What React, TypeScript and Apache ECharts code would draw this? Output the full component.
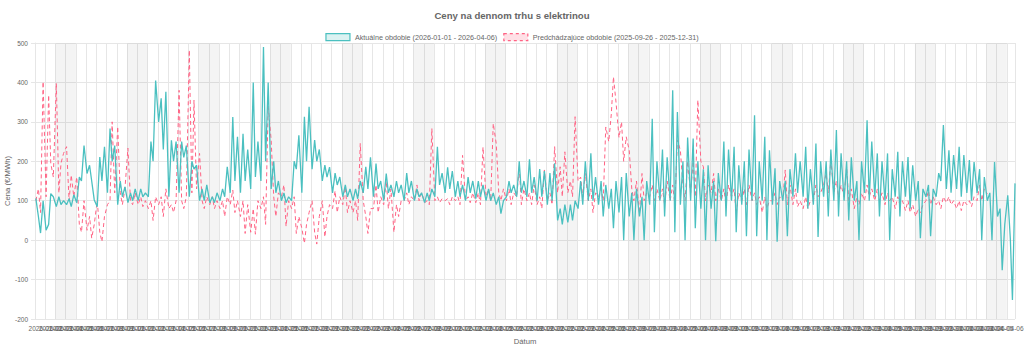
import React, { useEffect, useRef } from "react";
import * as echarts from "echarts";

const TITLE = "Ceny na dennom trhu s elektrinou";
const CURRENT_NAME = "Aktuálne obdobie (2026-01-01 - 2026-04-06)";
const PREVIOUS_NAME = "Predchádzajúce obdobie (2025-09-26 - 2025-12-31)";
const X_NAME = "Dátum";
const Y_NAME = "Cena (€/MWh)";
const START_DATE = "2026-01-01";
// hours of the day at which the values below were read
const HOURS = [2, 8, 13, 19];
const LAST_HOUR = 95 * 24 + 19;
const Y_MIN = -200;
const Y_MAX = 500;
const Y_STEP = 100;

// current period (2026-01-01 .. 2026-04-06), 4 readings per day
const CURRENT = [
  106, 60, 18, 100, 25, 40, 118, 110, 85, 110, 90, 100, 90, 105, 85, 115,
  95, 160, 150, 240, 169, 190, 150, 102, 85, 211, 150, 237,
  120, 283, 200, 240, 90, 150, 110, 135, 95, 120, 100, 130, 100, 130, 110, 120,
  110, 250, 200, 405, 300, 360, 230, 376, 110, 253, 200, 250,
  120, 250, 210, 240, 110, 200, 180, 190, 100, 130, 100, 140, 95, 110, 95, 120,
  100, 130, 110, 186, 120, 312, 150, 262, 120, 270, 150, 230,
  130, 400, 160, 250, 150, 490, 200, 400, 130, 200, 120, 150, 100, 120, 95, 110,
  100, 200, 180, 266, 120, 313, 200, 338, 180, 254, 200, 230,
  150, 190, 160, 185, 120, 170, 140, 160, 110, 140, 110, 130, 100, 130, 105, 150,
  120, 186, 130, 210, 110, 194, 130, 150, 100, 169, 120, 140,
  110, 150, 120, 140, 100, 170, 120, 150, 100, 130, 110, 120, 95, 120, 100, 130,
  110, 237, 140, 170, 120, 185, 130, 175, 110, 150, 110, 140,
  100, 160, 120, 150, 105, 150, 110, 140, 100, 130, 100, 120, 90, 110, 67, 100,
  110, 150, 120, 140, 110, 200, 120, 150, 110, 205, 120, 160,
  100, 180, 110, 175, 90, 170, 100, 195, 50, 80, 40, 90, 45, 90, 50, 100,
  80, 150, 90, 200, 100, 220, 100, 160, 90, 150, 60, 140,
  80, 130, 30, 150, 70, 160, 0, 170, 60, 120, 0, 130, 60, 110, 0, 150,
  90, 308, 20, 200, 100, 230, 60, 210, 100, 380, 20, 325,
  90, 200, 0, 260, 100, 258, 30, 200, 80, 180, 0, 190, 80, 150, -3, 170,
  100, 250, 60, 230, 100, 237, 20, 190, 90, 200, 10, 230,
  100, 317, 10, 200, 100, 262, 0, 228, 90, 182, -4, 150, 100, 150, 10, 180,
  110, 220, 120, 200, 110, 237, 80, 180, 90, 245, 8, 200,
  110, 200, 60, 230, 100, 279, 60, 220, 100, 200, 50, 210, 100, 150, 0, 200,
  120, 304, 100, 250, 110, 220, 60, 200, 100, 220, 0, 180,
  110, 224, 60, 200, 110, 211, 80, 190, 100, 150, 5, 130, 110, 140, 10, 130,
  110, 170, 150, 292, 130, 228, 120, 216, 130, 237, 110, 216,
  120, 203, 100, 198, 120, 180, 0, 160, 100, 120, 0, 198, 60, 80, -76, 40,
  114, 5, -152, 144,
];

// previous period (2025-09-26 ..), aligned by day index, 4 readings per day
const PREVIOUS = [
  100, 130, 70, 402, 110, 368, 195, 160, 398, 120, 195, 220, 237, 100, 165, 110,
  160, 40, 20, 100, 25, 60, 5, 40, 100, 20, -4, 60,
  90, 100, 300, 120, 288, 120, 90, 130, 233, 100, 90, 120, 90, 110, 85, 100,
  80, 100, 50, 110, 90, 110, 60, 130, 80, 90, 70, 100,
  380, 100, 80, 110, 482, 120, 355, 130, 220, 100, 80, 110, 90, 110, 80, 100,
  80, 100, 60, 110, 90, 127, 70, 100, 60, 100, 17, 90,
  20, 80, 15, 100, 80, 110, 40, 340, 254, 110, 60, 120, 110, 140, 35, 100,
  80, 110, 17, 60, 30, -8, 40, 70, 100, 20, -10, 60,
  100, 8, 60, 90, 80, 125, 70, 110, 90, 135, 70, 100, 70, 100, 50, 245,
  100, 60, 17, 80, 80, 140, 70, 110, 90, 150, 80, 130,
  20, 90, 60, 100, 100, 120, 90, 110, 100, 140, 100, 120, 95, 100, 90, 283,
  100, 110, 95, 105, 100, 105, 90, 110, 100, 110, 90, 215,
  100, 110, 95, 120, 95, 120, 90, 236, 110, 130, 100, 296, 245, 120, 100, 130,
  100, 130, 90, 120, 110, 186, 90, 130, 100, 120, 90, 140,
  90, 110, 80, 178, 100, 120, 90, 237, 120, 186, 110, 224, 120, 150, 110, 313,
  150, 160, 110, 169, 100, 130, 70, 120, 110, 130, 100, 287,
  250, 320, 414, 350, 260, 300, 200, 262, 228, 130, 100, 150, 68, 169, 100, 120,
  110, 140, 100, 130, 100, 130, 90, 150, 100, 140, 90, 254,
  228, 140, 100, 200, 120, 200, 110, 355, 200, 186, 100, 140, 120, 169, 100, 130,
  100, 130, 90, 140, 110, 130, 68, 120, 100, 130, 90, 140,
  100, 120, 90, 110, 70, 110, 80, 100, 100, 120, 90, 110, 100, 178, 90, 140,
  90, 130, 85, 100, 80, 110, 80, 100, 100, 140, 110, 120,
  140, 169, 120, 203, 120, 150, 110, 140, 110, 186, 100, 130, 80, 110, 90, 120,
  100, 140, 110, 130, 100, 130, 100, 120, 90, 120, 100, 110,
  80, 110, 90, 100, 75, 100, 70, 90, 60, 80, 70, 90, 100, 125, 90, 110,
  90, 100, 80, 110, 95, 110, 90, 100, 80, 100, 75, 100,
  90, 100, 85, 110, 100, 140, 100, 130, 117,
];

const FONT = "'Liberation Sans', Arial, Helvetica, sans-serif";
const DAY_MS = 86400000;
const START_MS = Date.parse(START_DATE + "T00:00:00Z");

const toSeries = (vals: number[]) =>
  vals.map((v, i) => [Math.floor(i / HOURS.length) * 24 + HOURS[i % HOURS.length], v]);

const dateLabel = (hour: number) =>
  new Date(START_MS + Math.round(hour / 24) * DAY_MS).toISOString().slice(0, 10);

const weekendAreas = () => {
  const out: any[] = [];
  for (let d = 0; d * 24 < LAST_HOUR; d++) {
    const dow = new Date(START_MS + d * DAY_MS).getUTCDay();
    if (dow === 6) {
      out.push([{ xAxis: d * 24 }, { xAxis: Math.min((d + 2) * 24, LAST_HOUR) }]);
    }
  }
  return out;
};

export default function App() {
  const ref = useRef<HTMLDivElement>(null);
  useEffect(() => {
    document.body.style.margin = "0";
    if (!ref.current) return;
    const chart = echarts.init(ref.current, null, { renderer: "svg" });
    const grid = "#e6e6e6";
    chart.setOption({
      animation: false,
      textStyle: { fontFamily: FONT },
      title: {
        text: TITLE,
        left: "center",
        top: 5,
        textStyle: { fontFamily: FONT, fontSize: 9.6, fontWeight: "bold", color: "#666" },
      },
      legend: {
        top: 28,
        left: "center",
        itemWidth: 24,
        itemHeight: 7,
        itemGap: 6,
        textStyle: { fontFamily: FONT, fontSize: 7.2, color: "#666" },
        data: [
          {
            name: CURRENT_NAME,
            icon: "rect",
            itemStyle: { color: "rgba(75,192,192,0.2)", borderColor: "#4bc0c0", borderWidth: 1.2 },
          },
          {
            name: PREVIOUS_NAME,
            icon: "rect",
            itemStyle: {
              color: "rgba(255,99,132,0.2)",
              borderColor: "#ff6384",
              borderWidth: 1.2,
              borderType: [3, 3],
            },
          },
        ],
      },
      grid: {
        left: 35,
        right: 9,
        top: 43,
        bottom: 30,
        containLabel: false,
        outerBoundsMode: "none",
      },
      xAxis: {
        type: "value",
        min: 0,
        max: LAST_HOUR,
        interval: 24,
        name: X_NAME,
        nameLocation: "middle",
        nameGap: 18.5,
        nameMoveOverlap: false,
        nameTextStyle: { fontFamily: FONT, fontSize: 7.7, color: "#666" },
        axisLine: { show: true, lineStyle: { color: grid } },
        axisTick: { show: true, length: 5, lineStyle: { color: grid } },
        axisLabel: {
          formatter: (v: number) => dateLabel(v),
          fontFamily: FONT,
          fontSize: 6.5,
          color: "#666",
          margin: 6,
          showMaxLabel: false,
          hideOverlap: false,
        },
        splitLine: { show: true, lineStyle: { color: grid, width: 1 } },
      },
      yAxis: {
        type: "value",
        min: Y_MIN,
        max: Y_MAX,
        interval: Y_STEP,
        name: Y_NAME,
        nameLocation: "middle",
        nameGap: 23.5,
        nameRotate: 90,
        nameMoveOverlap: false,
        nameTextStyle: { fontFamily: FONT, fontSize: 7.7, color: "#666" },
        axisLine: { show: true, lineStyle: { color: grid } },
        axisTick: { show: true, length: 4, lineStyle: { color: grid } },
        axisLabel: { fontFamily: FONT, fontSize: 6.5, color: "#666", margin: 7 },
        splitLine: { show: true, lineStyle: { color: grid, width: 1 } },
      },
      series: [
        {
          type: "line",
          name: "weekends",
          data: [],
          z: 1,
          silent: true,
          markArea: {
            silent: true,
            itemStyle: { color: "rgba(0,0,0,0.045)" },
            data: weekendAreas(),
          },
        },
        {
          type: "line",
          name: PREVIOUS_NAME,
          data: toSeries(PREVIOUS),
          showSymbol: false,
          z: 2,
          lineStyle: { color: "#ff6384", width: 1, type: [4, 3] },
          itemStyle: { color: "#ff6384" },
        },
        {
          type: "line",
          name: CURRENT_NAME,
          data: toSeries(CURRENT),
          showSymbol: false,
          z: 3,
          lineStyle: { color: "#4bc0c0", width: 1.3 },
          itemStyle: { color: "#4bc0c0" },
        },
      ],
    });
    return () => chart.dispose();
  }, []);
  return <div ref={ref} style={{ width: 1024, height: 349 }} />;
}
